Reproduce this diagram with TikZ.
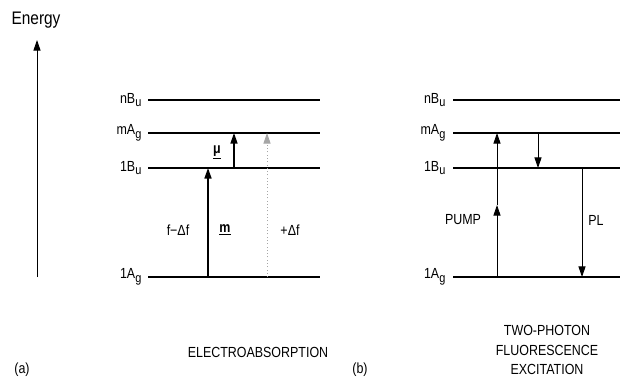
\documentclass[tikz,border=0pt]{standalone}
\usepackage{fontspec}
\setmainfont{Liberation Sans}[FakeStretch=0.85]
\usetikzlibrary{arrows.meta, positioning}
\newcommand\lsub[1]{\raisebox{-0.5ex}{\fontsize{11}{11}\selectfont #1}}
\tikzset{
  every picture/.style={line width=0.8pt},
  level/.style={line width=2.2pt},
  arr/.style={-{Triangle[length=9pt,width=6pt]}, line width=0.8pt},
  lbl/.style={font=\fontsize{12.5}{14}\selectfont, inner sep=1pt},
  caption/.style={font=\fontsize{12.5}{17}\selectfont, align=center, inner sep=1pt},
}

\begin{document}
\begin{tikzpicture}[x=0.03cm, y=-0.03cm]
  \useasboundingbox (0,0) rectangle (621,381);
  % energy axis
  \node[font=\fontsize{15.5}{17}\selectfont] (energy) at (36,20) {Energy};
  \coordinate (e0) at (37,277);
  \coordinate (e1) at (37,40);
  \draw[arr] (e0) -- (e1);

  % (a) electroabsorption
  \foreach \nm/\y/\txt in {nB/100/nB\lsub{u}, mA/133/mA\lsub{g}, oB/168/1B\lsub{u}, oA/277/1A\lsub{g}} {
    \node[lbl, anchor=east] (a-\nm-t) at (143,\y) {\txt};
    \coordinate (a-\nm-l) at (148,\y);
    \coordinate (a-\nm-r) at (320,\y);
    \draw[level] (a-\nm-l) -- (a-\nm-r);
  }
  \coordinate (m0) at (208,277); \coordinate (m1) at (208,168);
  \draw[arr, line width=1.3pt] (m0) -- (m1);
  \coordinate (mu0) at (234,168); \coordinate (mu1) at (234,133);
  \draw[arr, line width=1.1pt] (mu0) -- (mu1);
  \coordinate (df0) at (267,277); \coordinate (df1) at (267,133);
  \draw[arr, gray!70, dotted] (df0) -- (df1);
  \node[lbl] (mu) at (217,152) {\underline{\textbf{μ}}};
  \node[lbl] (m) at (225,230) {\underline{\textbf{m}}};
  \node[lbl] (fdf) at (178,230) {f−Δf};
  \node[lbl] (pdf) at (290,230) {+Δf};
  \node[caption] (a) at (22,370) {(a)};
  \node[caption] (ea) at (258,352) {ELECTROABSORPTION};

  % (b) two-photon fluorescence
  \foreach \nm/\y/\txt in {nB/100/nB\lsub{u}, mA/133/mA\lsub{g}, oB/168/1B\lsub{u}, oA/277/1A\lsub{g}} {
    \node[lbl, anchor=east] (b-\nm-t) at (447,\y) {\txt};
    \coordinate (b-\nm-l) at (453,\y);
    \coordinate (b-\nm-r) at (620,\y);
    \draw[level] (b-\nm-l) -- (b-\nm-r);
  }
  \coordinate (p0) at (497,277); \coordinate (p1) at (497,205); \coordinate (p2) at (497,133);
  \draw[arr] (p0) -- (p1);
  \draw[arr] (p1) -- (p2);
  \coordinate (r0) at (538,133); \coordinate (r1) at (538,168);
  \draw[arr] (r0) -- (r1);
  \coordinate (pl0) at (582,168); \coordinate (pl1) at (582,277);
  \draw[arr] (pl0) -- (pl1);
  \node[lbl] (pump) at (463,220) {PUMP};
  \node[lbl] (pl) at (596,220) {PL};
  \node[caption] (b) at (360,370) {(b)};
  \node[caption] (tpf) at (547,350) {TWO-PHOTON\\FLUORESCENCE\\EXCITATION};
\end{tikzpicture}
\end{document}
